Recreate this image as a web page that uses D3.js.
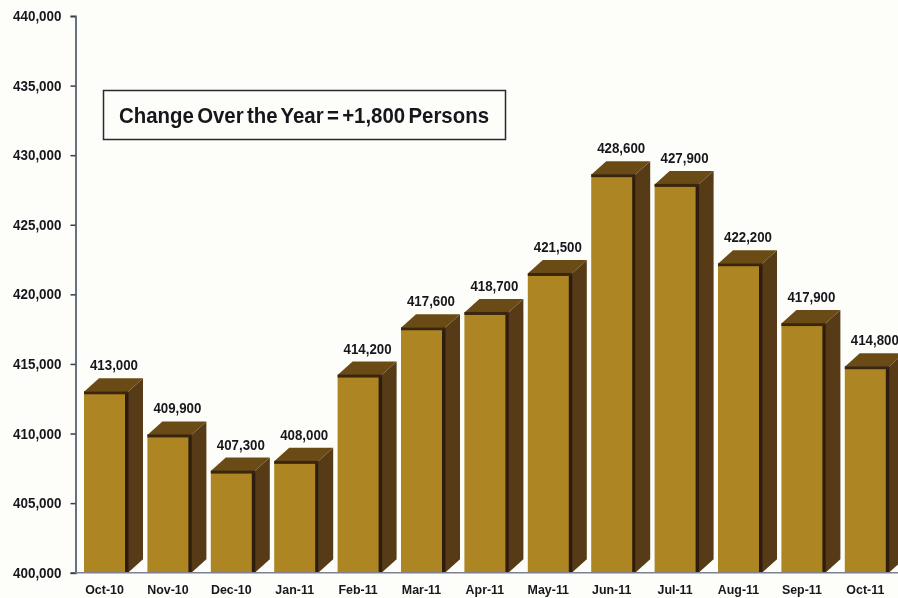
<!DOCTYPE html>
<html>
<head>
<meta charset="utf-8">
<script src="https://cdn.jsdelivr.net/npm/d3@7"></script>
<style>
  html, body { margin: 0; padding: 0; background: #fdfefa; overflow: hidden; }
  text { font-family: "Liberation Sans", Arial, sans-serif; font-weight: bold; fill: #17171c; }
</style>
</head>
<body>
<svg id="chart" width="898" height="598"></svg>
<script>
const months = ["Oct-10", "Nov-10", "Dec-10", "Jan-11", "Feb-11", "Mar-11", "Apr-11",
  "May-11", "Jun-11", "Jul-11", "Aug-11", "Sep-11", "Oct-11"];
const persons = [413000, 409900, 407300, 408000, 414200, 417600, 418700,
  421500, 428600, 427900, 422200, 417900, 414800];
const yTicks = [400000, 405000, 410000, 415000, 420000, 425000, 430000, 435000, 440000];
const note = "Change Over the Year = +1,800 Persons";

const data = months.map((m, i) => ({ month: m, value: persons[i] }));

const svg = d3.select("#chart");

// soften everything a bit, the original is a scan
const defs = svg.append("defs");
defs.append("filter").attr("id", "scan")
  .attr("x", "-2%").attr("y", "-2%").attr("width", "104%").attr("height", "104%")
  .append("feGaussianBlur").attr("stdDeviation", 0.5);

const root = svg.append("g").attr("filter", "url(#scan)");
root.append("rect").attr("width", 898).attr("height", 598).attr("fill", "#fdfefa");

const x = d3.scaleBand().domain(months).range([84, 888.8]).paddingInner(0.306).paddingOuter(0);
const y = d3.scaleLinear().domain([400000, 440000]).range([572.7, 16]);

const depthX = 15;
const depthY = 13.5;
const axisX = 75.5;
const fmt = d3.format(",");

// 3D bars
const bars = root.append("g").selectAll("g").data(data).join("g");

bars.append("path") // side
  .attr("fill", "#573b19")
  .attr("d", d => {
    const r = x(d.month) + x.bandwidth(), t = y(d.value), b = y(400000);
    return `M${r},${t}L${r + depthX},${t - depthY}L${r + depthX},${b - depthY}L${r},${b}Z`;
  });

bars.append("path") // top
  .attr("fill", "#6b4c19")
  .attr("d", d => {
    const l = x(d.month), r = l + x.bandwidth(), t = y(d.value);
    return `M${l},${t}L${l + depthX},${t - depthY}L${r + depthX},${t - depthY}L${r},${t}Z`;
  });

bars.append("rect") // front
  .attr("x", d => x(d.month))
  .attr("y", d => y(d.value))
  .attr("width", x.bandwidth())
  .attr("height", d => y(400000) - y(d.value))
  .attr("fill", "#ad8522");

bars.append("rect") // dark edge right of the front
  .attr("x", d => x(d.month) + x.bandwidth() - 3)
  .attr("y", d => y(d.value))
  .attr("width", 3.5)
  .attr("height", d => y(400000) - y(d.value))
  .attr("fill", "#2f1f0e");

bars.append("rect") // dark edge on top of the front
  .attr("x", d => x(d.month))
  .attr("y", d => y(d.value) - 0.5)
  .attr("width", x.bandwidth())
  .attr("height", 3)
  .attr("fill", "#3a2710");

// value labels
root.append("g").selectAll("text").data(data).join("text")
  .attr("x", d => x(d.month) + x.bandwidth() / 2 + 8)
  .attr("y", d => y(d.value) - 21.5)
  .attr("text-anchor", "middle")
  .attr("font-size", 14.5)
  .attr("textLength", 48)
  .attr("lengthAdjust", "spacingAndGlyphs")
  .text(d => fmt(d.value));

// axes
const yAxis = d3.axisLeft(y).tickValues(yTicks).tickFormat(fmt).tickSize(5).tickPadding(9);
const gy = root.append("g").attr("transform", `translate(${axisX},0)`).call(yAxis);
gy.select(".domain").attr("stroke", "#6b7080").attr("stroke-width", 2);
gy.selectAll(".tick line").attr("stroke", "#3a3c44").attr("stroke-width", 1.5);
gy.selectAll("text")
  .attr("font-size", 14.5)
  .attr("font-family", null)
  .attr("textLength", 48.5)
  .attr("lengthAdjust", "spacingAndGlyphs");

const xAxis = d3.axisBottom(x).tickSize(0).tickPadding(12);
const gx = root.append("g").attr("transform", `translate(-1.5,${y(400000)})`).call(xAxis);
gx.select(".domain").remove();
// squeeze each month label by the same amount, the scan's text is narrow
gx.selectAll("text")
  .attr("font-size", 13.5)
  .attr("font-family", null)
  .each(function () {
    d3.select(this)
      .attr("textLength", this.getComputedTextLength() * 0.92)
      .attr("lengthAdjust", "spacingAndGlyphs");
  });

root.append("line")
  .attr("x1", axisX).attr("x2", 898)
  .attr("y1", y(400000)).attr("y2", y(400000))
  .attr("stroke", "#7d8090").attr("stroke-width", 1.5);

// note box
root.append("rect")
  .attr("x", 103.5).attr("y", 90.5).attr("width", 402).attr("height", 49)
  .attr("fill", "#fdfefa").attr("stroke", "#2a2a2e").attr("stroke-width", 1.5);
root.append("text")
  .attr("x", 304).attr("y", 122.5)
  .attr("text-anchor", "middle")
  .attr("font-size", 21.5)
  .attr("word-spacing", -2.5)
  .attr("textLength", 370)
  .attr("lengthAdjust", "spacingAndGlyphs")
  .text(note);
</script>
</body>
</html>
